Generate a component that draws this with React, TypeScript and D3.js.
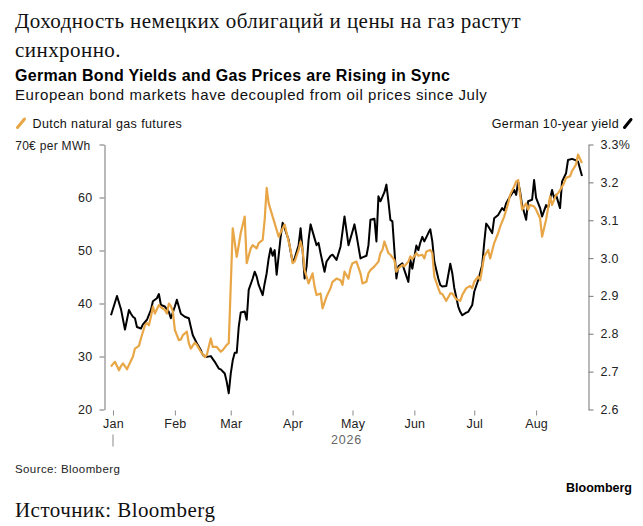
import { useRef, useEffect } from 'react'
import * as d3 from 'd3'

// Dutch TTF gas futures, EUR per MWh
const gasDates = [
  '2025-12-31', '2026-01-01', '2026-01-02', '2026-01-04', '2026-01-05', '2026-01-06', '2026-01-08', '2026-01-09',
  '2026-01-11', '2026-01-12', '2026-01-14', '2026-01-15', '2026-01-17', '2026-01-18', '2026-01-19', '2026-01-20',
  '2026-01-21', '2026-01-22', '2026-01-24', '2026-01-25', '2026-01-27', '2026-01-28', '2026-01-29', '2026-01-30',
  '2026-01-31', '2026-02-01', '2026-02-03', '2026-02-04', '2026-02-05', '2026-02-07', '2026-02-08', '2026-02-09',
  '2026-02-11', '2026-02-12', '2026-02-14', '2026-02-16', '2026-02-17', '2026-02-19', '2026-02-20', '2026-02-22',
  '2026-02-24', '2026-02-25', '2026-02-27', '2026-02-28', '2026-03-02', '2026-03-04', '2026-03-05', '2026-03-06',
  '2026-03-08', '2026-03-09', '2026-03-11', '2026-03-12', '2026-03-14', '2026-03-15', '2026-03-17', '2026-03-18',
  '2026-03-19', '2026-03-20', '2026-03-22', '2026-03-24', '2026-03-25', '2026-03-27', '2026-03-28', '2026-03-29',
  '2026-03-31', '2026-04-01', '2026-04-02', '2026-04-04', '2026-04-05', '2026-04-06', '2026-04-07', '2026-04-08',
  '2026-04-09', '2026-04-11', '2026-04-12', '2026-04-13', '2026-04-15', '2026-04-16', '2026-04-18', '2026-04-20',
  '2026-04-21', '2026-04-23', '2026-04-25', '2026-04-26', '2026-04-27', '2026-04-29', '2026-04-30', '2026-05-01',
  '2026-05-03', '2026-05-05', '2026-05-06', '2026-05-08', '2026-05-09', '2026-05-10', '2026-05-12', '2026-05-14',
  '2026-05-15', '2026-05-16', '2026-05-17', '2026-05-19', '2026-05-20', '2026-05-22', '2026-05-23', '2026-05-24',
  '2026-05-26', '2026-05-27', '2026-05-29', '2026-05-30', '2026-05-31', '2026-06-02', '2026-06-03', '2026-06-05',
  '2026-06-06', '2026-06-07', '2026-06-09', '2026-06-10', '2026-06-11', '2026-06-13', '2026-06-14', '2026-06-15',
  '2026-06-17', '2026-06-19', '2026-06-20', '2026-06-22', '2026-06-24', '2026-06-25', '2026-06-27', '2026-06-29',
  '2026-06-30', '2026-07-01', '2026-07-03', '2026-07-04', '2026-07-05', '2026-07-06', '2026-07-08', '2026-07-09',
  '2026-07-11', '2026-07-13', '2026-07-14', '2026-07-16', '2026-07-18', '2026-07-19', '2026-07-21', '2026-07-22',
  '2026-07-23', '2026-07-24', '2026-07-25', '2026-07-27', '2026-07-28', '2026-07-29', '2026-07-31', '2026-08-01',
  '2026-08-03', '2026-08-04', '2026-08-06', '2026-08-07', '2026-08-08', '2026-08-09', '2026-08-11', '2026-08-12',
  '2026-08-13', '2026-08-15', '2026-08-16', '2026-08-18', '2026-08-19', '2026-08-21', '2026-08-22', '2026-08-24',
]
const gasValues = [
  28.1, 28.6, 29.0, 27.4, 28.2, 28.7, 27.6, 28.4,
  30.0, 31.5, 32.0, 33.4, 35.9, 36.3, 35.9, 37.5,
  39.4, 38.1, 39.7, 39.3, 38.8, 38.1, 40.0, 39.5,
  38.5, 35.0, 33.1, 33.2, 34.0, 34.7, 32.5, 31.5,
  32.6, 32.2, 30.9, 29.9, 30.3, 33.4, 31.8, 31.8,
  30.9, 31.2, 32.2, 32.5, 54.2, 48.8, 51.0, 53.3,
  56.4, 47.6, 50.4, 51.0, 50.4, 51.4, 52.0, 55.8,
  61.8, 58.9, 56.4, 53.9, 52.6, 54.2, 54.9, 53.3,
  50.1, 47.6, 47.9, 50.1, 51.7, 50.1, 46.3, 45.1,
  43.8, 45.7, 43.2, 41.6, 41.9, 39.1, 41.3, 42.9,
  44.1, 44.7, 44.4, 43.5, 46.0, 44.7, 46.6, 47.6,
  47.9, 45.7, 43.8, 44.1, 45.7, 46.3, 47.0, 47.9,
  49.5, 50.1, 51.7, 49.5, 49.2, 48.2, 46.0, 46.6,
  47.3, 47.0, 47.9, 48.9, 48.4, 49.5, 49.0, 49.2,
  48.5, 49.8, 50.1, 49.5, 45.1, 42.9, 41.9, 41.8,
  40.5, 41.9, 41.9, 40.8, 40.5, 41.6, 42.9, 43.3,
  42.9, 44.1, 45.1, 44.4, 46.6, 48.9, 50.1, 48.5,
  51.4, 53.3, 54.5, 56.4, 58.9, 60.5, 62.1, 63.0,
  63.3, 60.5, 57.7, 58.9, 57.7, 58.6, 58.3, 57.7,
  56.1, 52.6, 55.8, 58.0, 60.2, 58.6, 60.5, 60.8,
  61.4, 62.7, 63.7, 64.0, 65.0, 66.2, 68.1, 66.5,
]

// German 10-year Bund yield, %
const yieldDates = [
  '2025-12-31', '2026-01-03', '2026-01-05', '2026-01-07', '2026-01-09', '2026-01-10', '2026-01-11', '2026-01-12',
  '2026-01-13', '2026-01-15', '2026-01-16', '2026-01-18', '2026-01-20', '2026-01-21', '2026-01-23', '2026-01-24',
  '2026-01-25', '2026-01-27', '2026-01-29', '2026-01-30', '2026-02-01', '2026-02-02', '2026-02-04', '2026-02-06',
  '2026-02-08', '2026-02-09', '2026-02-10', '2026-02-12', '2026-02-14', '2026-02-15', '2026-02-17', '2026-02-19',
  '2026-02-21', '2026-02-23', '2026-02-24', '2026-02-26', '2026-02-27', '2026-02-28', '2026-03-01', '2026-03-02',
  '2026-03-03', '2026-03-04', '2026-03-05', '2026-03-06', '2026-03-08', '2026-03-09', '2026-03-10', '2026-03-12',
  '2026-03-13', '2026-03-14', '2026-03-15', '2026-03-17', '2026-03-18', '2026-03-19', '2026-03-20', '2026-03-21',
  '2026-03-22', '2026-03-23', '2026-03-24', '2026-03-26', '2026-03-27', '2026-03-28', '2026-03-30', '2026-03-31',
  '2026-04-01', '2026-04-02', '2026-04-04', '2026-04-05', '2026-04-06', '2026-04-07', '2026-04-08', '2026-04-09',
  '2026-04-10', '2026-04-12', '2026-04-13', '2026-04-14', '2026-04-15', '2026-04-17', '2026-04-18', '2026-04-20',
  '2026-04-21', '2026-04-23', '2026-04-25', '2026-04-26', '2026-04-27', '2026-04-29', '2026-05-01', '2026-05-02',
  '2026-05-03', '2026-05-05', '2026-05-06', '2026-05-08', '2026-05-09', '2026-05-10', '2026-05-12', '2026-05-13',
  '2026-05-14', '2026-05-15', '2026-05-17', '2026-05-18', '2026-05-19', '2026-05-20', '2026-05-21', '2026-05-22',
  '2026-05-23', '2026-05-24', '2026-05-26', '2026-05-27', '2026-05-29', '2026-05-30', '2026-05-31', '2026-06-02',
  '2026-06-03', '2026-06-04', '2026-06-05', '2026-06-06', '2026-06-08', '2026-06-09', '2026-06-10', '2026-06-11',
  '2026-06-13', '2026-06-14', '2026-06-15', '2026-06-17', '2026-06-19', '2026-06-20', '2026-06-21', '2026-06-23',
  '2026-06-24', '2026-06-25', '2026-06-27', '2026-06-28', '2026-06-30', '2026-07-01', '2026-07-03', '2026-07-05',
  '2026-07-06', '2026-07-07', '2026-07-08', '2026-07-10', '2026-07-11', '2026-07-13', '2026-07-15', '2026-07-16',
  '2026-07-17', '2026-07-19', '2026-07-21', '2026-07-22', '2026-07-23', '2026-07-24', '2026-07-25', '2026-07-27',
  '2026-07-28', '2026-07-30', '2026-07-31', '2026-08-01', '2026-08-03', '2026-08-04', '2026-08-06', '2026-08-07',
  '2026-08-09', '2026-08-10', '2026-08-11', '2026-08-13', '2026-08-14', '2026-08-16', '2026-08-17', '2026-08-19',
  '2026-08-21', '2026-08-22', '2026-08-24',
]
const yieldValues = [
  2.849, 2.900, 2.865, 2.811, 2.863, 2.853, 2.845, 2.841,
  2.818, 2.814, 2.825, 2.837, 2.863, 2.886, 2.894, 2.905,
  2.876, 2.872, 2.858, 2.841, 2.872, 2.890, 2.853, 2.845,
  2.841, 2.818, 2.796, 2.775, 2.757, 2.744, 2.739, 2.741,
  2.726, 2.708, 2.706, 2.695, 2.673, 2.643, 2.695, 2.730,
  2.750, 2.750, 2.818, 2.856, 2.859, 2.837, 2.916, 2.946,
  2.964, 2.951, 2.929, 2.902, 2.933, 2.960, 2.999, 3.026,
  3.006, 3.021, 2.956, 3.056, 3.093, 3.079, 3.048, 3.017,
  2.991, 2.999, 3.034, 3.079, 3.021, 2.946, 2.978, 3.048,
  3.089, 3.052, 3.034, 3.040, 3.013, 2.964, 2.991, 3.006,
  3.009, 2.995, 3.030, 3.070, 3.110, 3.034, 3.070, 3.089,
  3.061, 2.999, 3.002, 3.006, 3.034, 3.101, 3.104, 3.044,
  3.163, 3.150, 3.174, 3.194, 3.150, 3.101, 3.097, 3.021,
  2.946, 2.978, 2.986, 2.968, 2.937, 2.995, 2.972, 3.033,
  3.021, 3.041, 3.056, 3.044, 3.066, 3.076, 3.044, 2.991,
  2.946, 2.929, 2.925, 2.926, 2.985, 2.960, 2.921, 2.872,
  2.858, 2.849, 2.856, 2.858, 2.876, 2.911, 2.942, 2.982,
  3.040, 3.091, 3.084, 3.066, 3.105, 3.114, 3.132, 3.126,
  3.145, 3.163, 3.180, 3.167, 3.202, 3.175, 3.140, 3.101,
  3.150, 3.154, 3.206, 3.159, 3.132, 3.110, 3.140, 3.132,
  3.180, 3.159, 3.167, 3.132, 3.202, 3.224, 3.259, 3.262,
  3.258, 3.255, 3.217,
]

const gasTicks = [20, 30, 40, 50, 60, 70]
const yieldTicks = [2.6, 2.7, 2.8, 2.9, 3.0, 3.1, 3.2, 3.3]
const monthStarts = ['2026-01-01', '2026-02-01', '2026-03-01', '2026-04-01', '2026-05-01', '2026-06-01', '2026-07-01', '2026-08-01']
const yearLabel = '2026'

const GAS_COLOR = '#e8a646'
const YIELD_COLOR = '#000000'
const AXIS_COLOR = '#8a8a8a'
const SANS = '"Liberation Sans", Arial, Helvetica, sans-serif'
const SERIF = '"Liberation Serif", "Times New Roman", serif'

export default function App() {
  const svgRef = useRef<SVGSVGElement>(null)

  useEffect(() => {
    if (!svgRef.current) return
    const svg = d3.select(svgRef.current)
    svg.selectAll('*').remove()

    const width = 643
    const height = 526
    const plot = { left: 104.5, right: 588.5, top: 144.5, bottom: 409.5, x0: 111, x1: 582 }

    svg.attr('width', width).attr('height', height).attr('viewBox', `0 0 ${width} ${height}`)
    svg.append('rect').attr('width', width).attr('height', height).attr('fill', '#fff')

    const parse = d3.timeParse('%Y-%m-%d')
    const gas = gasDates.map((d, i) => ({ date: parse(d) as Date, v: gasValues[i] }))
    const yld = yieldDates.map((d, i) => ({ date: parse(d) as Date, v: yieldValues[i] }))

    const allDates = [...gas, ...yld].map(d => d.date)
    const x = d3.scaleTime()
      .domain(d3.extent(allDates) as [Date, Date])
      .range([plot.x0, plot.x1])
    const yL = d3.scaleLinear().domain([20, 70]).range([plot.bottom, plot.top])
    const yR = d3.scaleLinear().domain([2.6, 3.3]).range([plot.bottom, plot.top])

    // Headline (Russian, serif)
    const head = svg.append('g').style('font-family', SERIF).style('fill', '#111')
      .style('font-size', '21px').style('letter-spacing', '0.45px')
    head.append('text').attr('x', 15).attr('y', 27.5)
      .text('Доходность немецких облигаций и цены на газ растут')
    head.append('text').attr('x', 15).attr('y', 56.5)
      .text('синхронно.')

    // Chart title / subtitle
    svg.append('text').attr('x', 15).attr('y', 81).style('font-family', SANS)
      .style('font-size', '16px').style('font-weight', '700').style('letter-spacing', '0.3px').style('fill', '#000')
      .text('German Bond Yields and Gas Prices are Rising in Sync')
    svg.append('text').attr('x', 15).attr('y', 99.5).style('font-family', SANS)
      .style('font-size', '15px').style('letter-spacing', '0.55px').style('fill', '#111')
      .text('European bond markets have decoupled from oil prices since July')

    // Legend
    svg.append('line').attr('x1', 17.5).attr('y1', 127.5).attr('x2', 24.5).attr('y2', 119)
      .attr('stroke', GAS_COLOR).attr('stroke-width', 3).attr('stroke-linecap', 'round')
    svg.append('text').attr('x', 32.5).attr('y', 127.5).style('font-family', SANS)
      .style('font-size', '12.5px').style('letter-spacing', '0.4px').style('fill', '#111')
      .text('Dutch natural gas futures')
    svg.append('line').attr('x1', 624.5).attr('y1', 127.5).attr('x2', 631).attr('y2', 119.5)
      .attr('stroke', YIELD_COLOR).attr('stroke-width', 3).attr('stroke-linecap', 'round')
    svg.append('text').attr('x', 619).attr('y', 127.5).attr('text-anchor', 'end').style('font-family', SANS)
      .style('font-size', '12.5px').style('letter-spacing', '0.35px').style('fill', '#111')
      .text('German 10-year yield')

    // Left axis (gas)
    const gL = svg.append('g').attr('transform', `translate(${plot.left},0)`)
      .call(d3.axisLeft(yL).tickValues(gasTicks).tickSize(5).tickSizeOuter(0).tickPadding(7)
        .tickFormat(d => (+d === 70 ? '70€ per MWh' : String(d))))
    gL.select('.domain').attr('stroke', AXIS_COLOR).attr('stroke-width', 1.2)
    gL.selectAll('.tick line').attr('stroke', AXIS_COLOR).attr('stroke-width', 1.2)
    gL.selectAll('.tick text').style('font-family', SANS).style('font-size', '12.5px')
      .style('letter-spacing', '0.3px').style('fill', '#222')
      .filter(d => +(d as number) === 70).style('font-size', '12px').attr('x', -14).attr('dy', '0.45em')

    // Right axis (yield)
    const gR = svg.append('g').attr('transform', `translate(${plot.right},0)`)
      .call(d3.axisRight(yR).tickValues(yieldTicks).tickSize(5).tickSizeOuter(0).tickPadding(7)
        .tickFormat(d => (+d === 3.3 ? '3.3%' : (+d).toFixed(1))))
    gR.select('.domain').attr('stroke', AXIS_COLOR).attr('stroke-width', 1.2)
    gR.selectAll('.tick line').attr('stroke', AXIS_COLOR).attr('stroke-width', 1.2)
    gR.selectAll('.tick text').style('font-family', SANS).style('font-size', '12.5px')
      .style('letter-spacing', '0.3px').style('fill', '#222')

    // Bottom axis (months)
    const months = monthStarts.map(m => parse(m) as Date)
    const gB = svg.append('g').attr('transform', `translate(0,${plot.bottom + 1})`)
      .call(d3.axisBottom(x).tickValues(months).tickSize(5).tickPadding(4)
        .tickFormat(d => d3.timeFormat('%b')(d as Date)))
    gB.select('.domain').remove()
    gB.selectAll('.tick line').attr('stroke', AXIS_COLOR).attr('stroke-width', 1)
    gB.selectAll('.tick text').style('font-family', SANS).style('font-size', '12.5px')
      .style('letter-spacing', '0.2px').style('fill', '#222')

    // Year marker
    svg.append('line').attr('x1', x(months[0])).attr('x2', x(months[0]))
      .attr('y1', plot.bottom + 25).attr('y2', plot.bottom + 37)
      .attr('stroke', AXIS_COLOR).attr('stroke-width', 1)
    svg.append('text').attr('x', (plot.x0 + plot.x1) / 2).attr('y', plot.bottom + 34)
      .attr('text-anchor', 'middle').style('font-family', SANS).style('font-size', '12.5px')
      .style('fill', '#666').style('letter-spacing', '0.8px').text(yearLabel)

    // Lines
    const lineYield = d3.line<{ date: Date; v: number }>().x(d => x(d.date)).y(d => yR(d.v))
    const lineGas = d3.line<{ date: Date; v: number }>().x(d => x(d.date)).y(d => yL(d.v))

    svg.append('path').datum(yld).attr('d', lineYield).attr('fill', 'none')
      .attr('stroke', YIELD_COLOR).attr('stroke-width', 2).attr('stroke-linejoin', 'round')
    svg.append('path').datum(gas).attr('d', lineGas).attr('fill', 'none')
      .attr('stroke', GAS_COLOR).attr('stroke-width', 2.2).attr('stroke-linejoin', 'round')

    // Footer
    svg.append('text').attr('x', 15).attr('y', 473).style('font-family', SANS)
      .style('font-size', '11.5px').style('letter-spacing', '0.4px').style('fill', '#222')
      .text('Source: Bloomberg')
    svg.append('text').attr('x', 632).attr('y', 491.5).attr('text-anchor', 'end').style('font-family', SANS)
      .style('font-size', '12.5px').style('font-weight', '700').style('fill', '#000').text('Bloomberg')
    svg.append('text').attr('x', 15).attr('y', 517).style('font-family', SERIF)
      .style('font-size', '21px').style('letter-spacing', '0.45px').style('fill', '#111')
      .text('Источник: Bloomberg')
  }, [])

  return (
    <div style={{ position: 'absolute', left: 0, top: 0, width: 643, height: 526, background: '#fff' }}>
      <svg ref={svgRef} style={{ display: 'block' }} />
    </div>
  )
}
